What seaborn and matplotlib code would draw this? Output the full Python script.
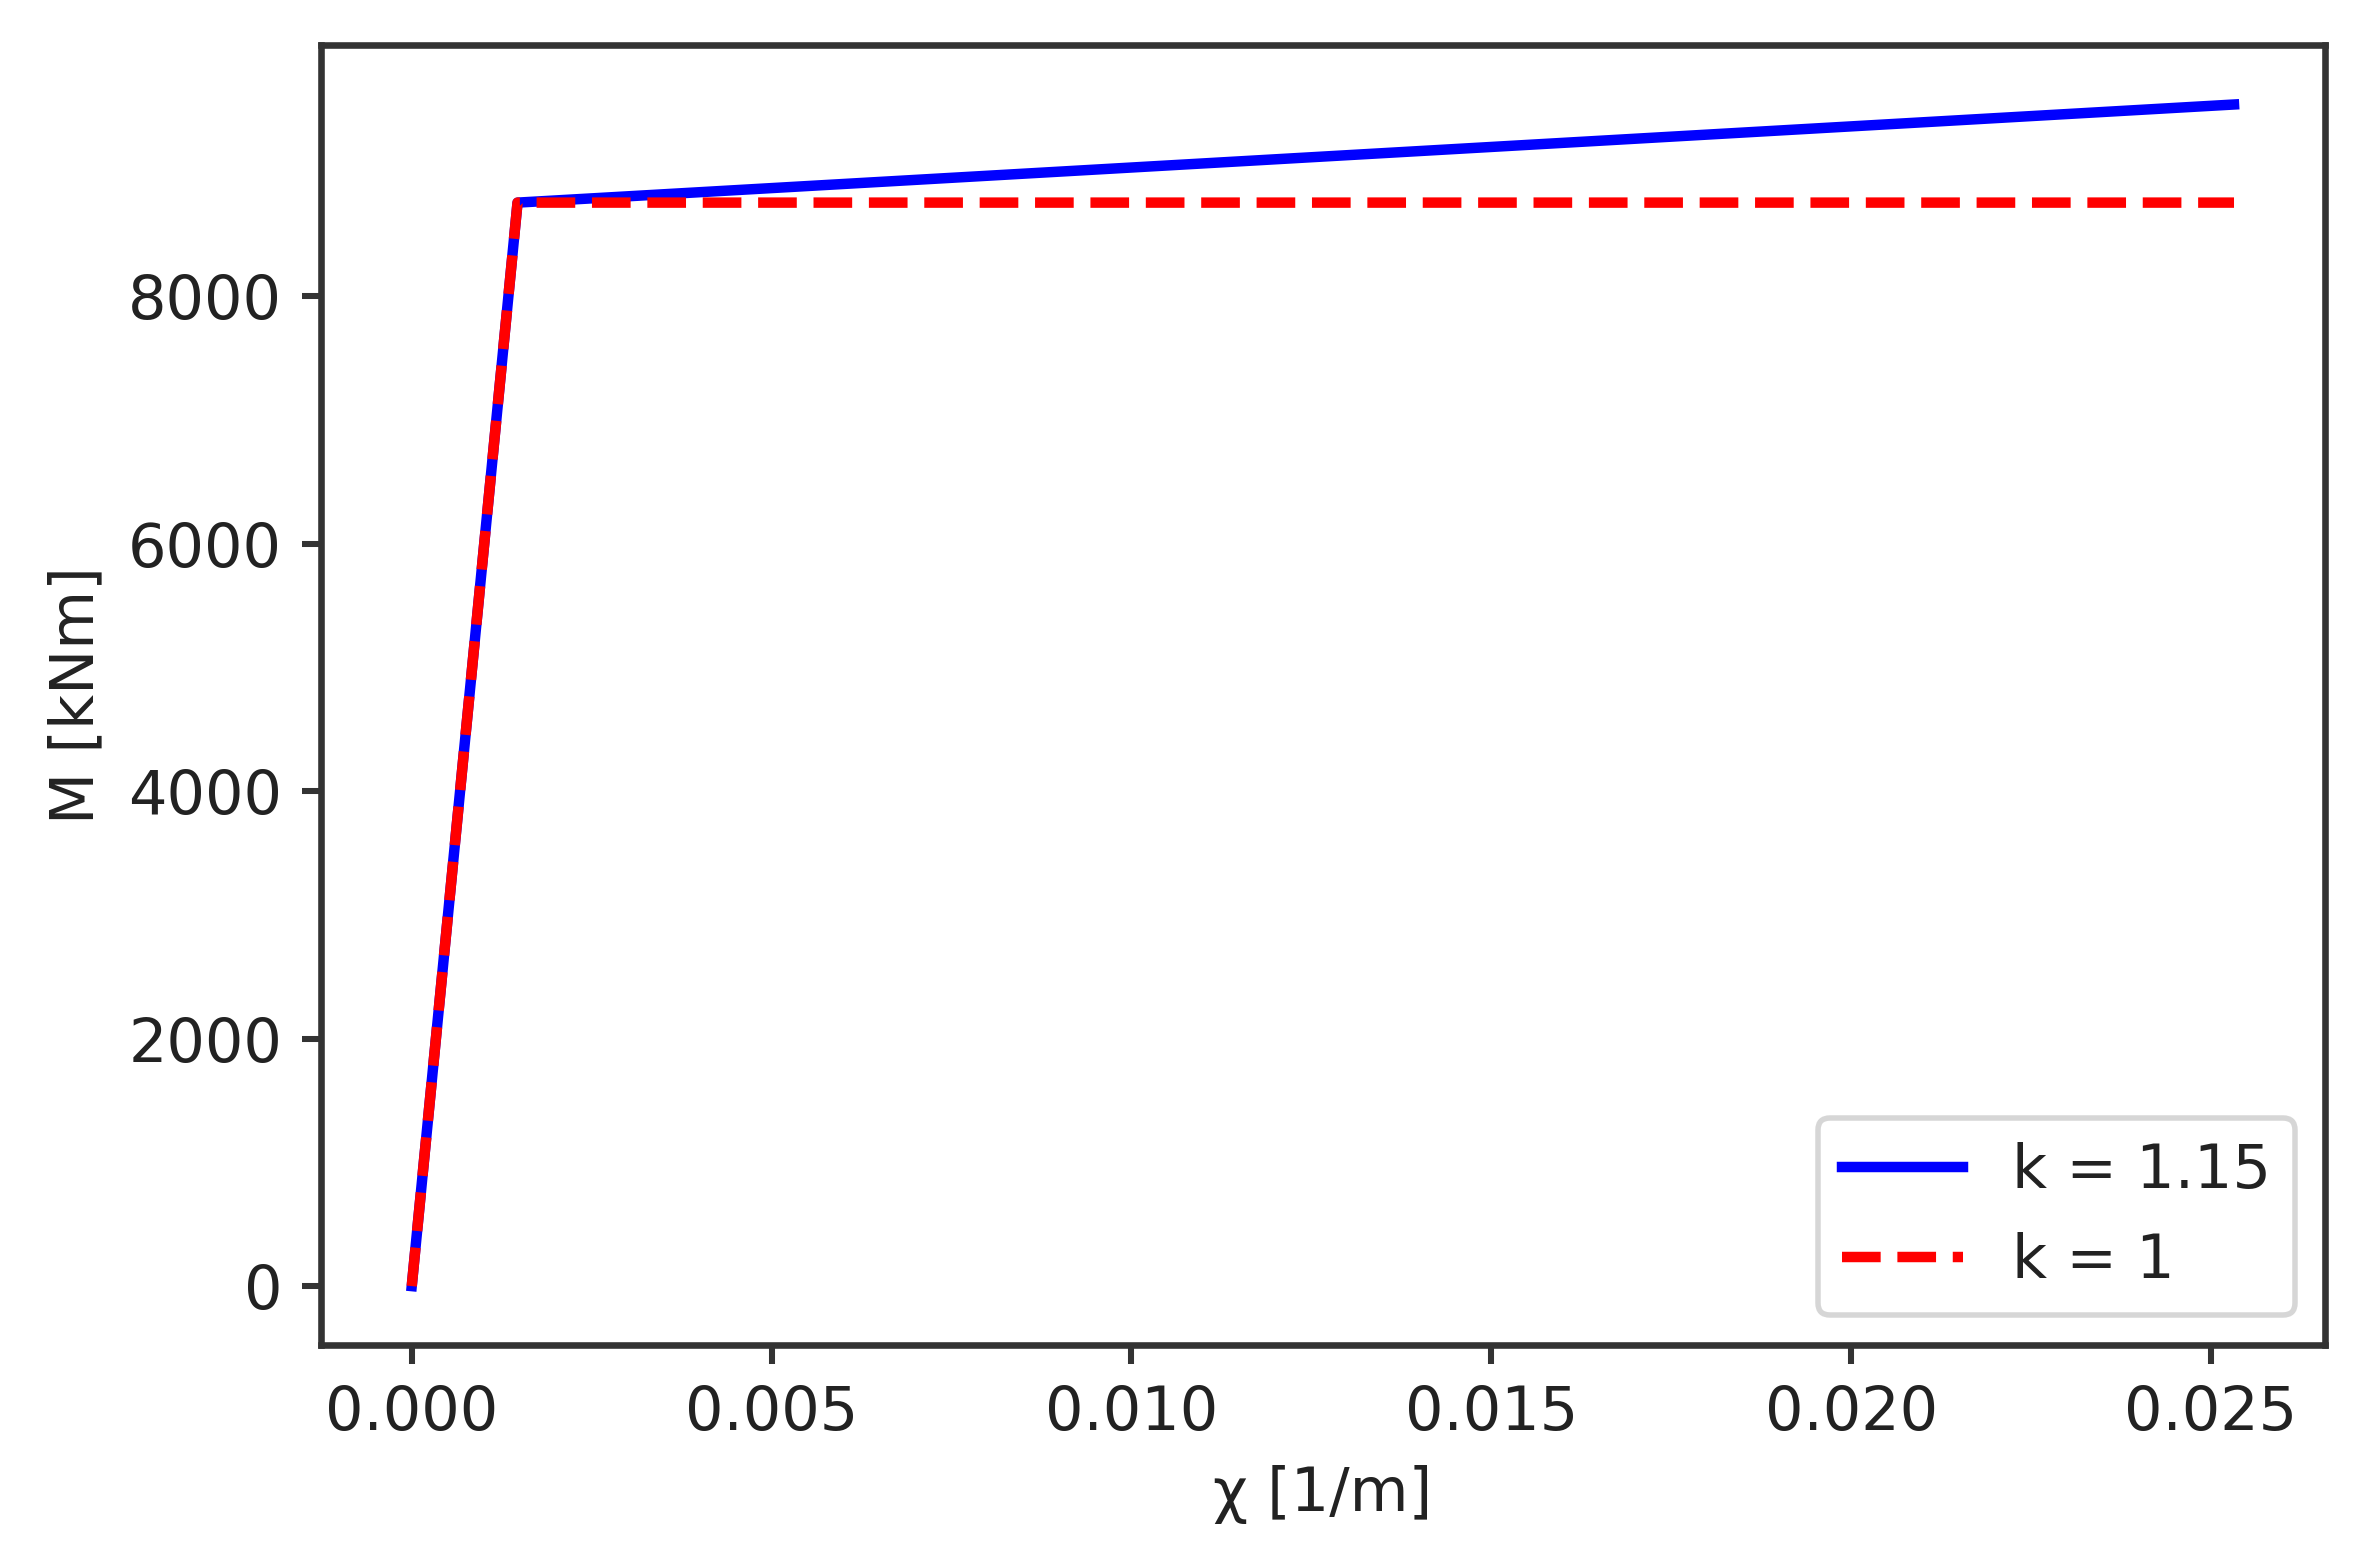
import numpy as np
import pandas as pd
import matplotlib
matplotlib.use("Agg")
import matplotlib.pyplot as plt
import seaborn as sns

# Data
chi_k115 = [0.0, 0.00147, 0.02532]
M_k115 = [0.0, 8757.0, 9550.0]
chi_k1 = [0.0, 0.00147, 0.02532]
M_k1 = [0.0, 8757.0, 8757.0]
labels = ["k = 1.15", "k = 1"]

df1 = pd.DataFrame({"chi": chi_k115, "M": M_k115})
df2 = pd.DataFrame({"chi": chi_k1, "M": M_k1})

plt.rcParams["font.size"] = 11
plt.rcParams["text.color"] = "#222222"
plt.rcParams["xtick.color"] = "#333333"
plt.rcParams["ytick.color"] = "#333333"
plt.rcParams["xtick.labelcolor"] = "#222222"
plt.rcParams["ytick.labelcolor"] = "#222222"
plt.rcParams["axes.labelcolor"] = "#222222"
plt.rcParams["axes.edgecolor"] = "#333333"
plt.rcParams["axes.linewidth"] = 1.2
plt.rcParams["xtick.major.width"] = 1.1
plt.rcParams["ytick.major.width"] = 1.1

DPI = 396
fig = plt.figure(figsize=(2375 / DPI, 1566 / DPI), dpi=DPI)
ax = fig.add_axes([0.135, 0.141, 0.979 - 0.135, 0.971 - 0.141])

sns.lineplot(data=df1, x="chi", y="M", sort=False, color="b", linestyle="-",
             linewidth=1.9, label=labels[0], ax=ax)
sns.lineplot(data=df2, x="chi", y="M", sort=False, color="r", linestyle="--",
             linewidth=1.9, label=labels[1], ax=ax)

ax.set_xlabel("χ [1/m]")
ax.set_ylabel("M [kNm]")
ax.set_xticks([0.0, 0.005, 0.010, 0.015, 0.020, 0.025])
ax.set_xticklabels(["0.000", "0.005", "0.010", "0.015", "0.020", "0.025"])
ax.set_yticks([0, 2000, 4000, 6000, 8000])
ax.legend(loc="lower right")

fig.savefig("out.png", dpi=DPI)
